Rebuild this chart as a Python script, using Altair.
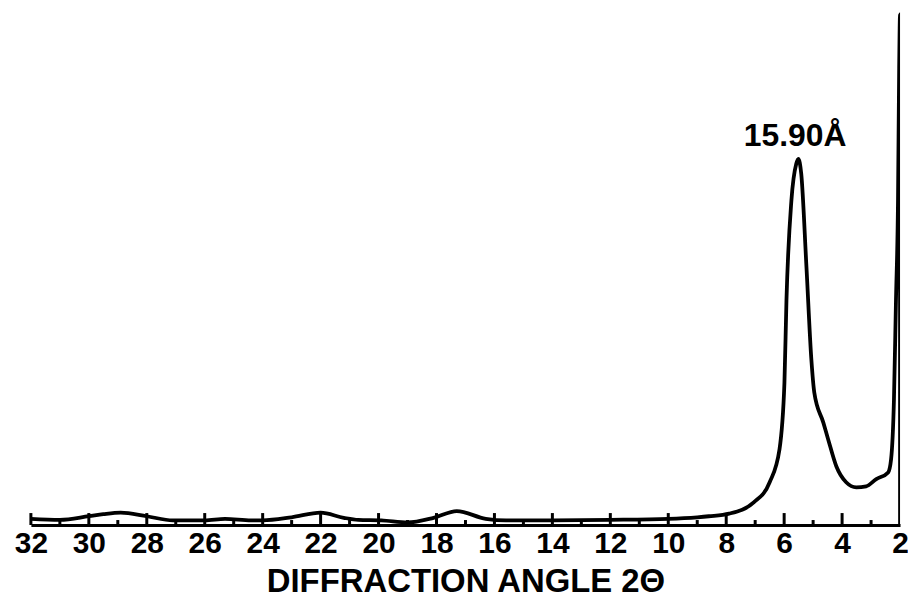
import altair as alt
import pandas as pd

# --- data ---
two_theta = [32.0, 31.0, 30.0, 29.5, 28.9, 28.0, 27.1, 26.0, 25.3, 24.4, 24.0, 23.0,
             22.0, 21.2, 20.7, 19.9, 19.0, 18.1, 17.3, 16.3, 15.6, 14.0, 12.0, 10.0,
             9.0, 8.6, 7.9, 7.05, 6.5, 6.16, 5.99, 5.92, 5.75, 5.58, 5.51, 5.41, 5.23,
             5.06, 4.96, 4.65, 4.48, 4.20, 3.86, 3.51, 3.17, 2.82, 2.41, 2.31, 2.21,
             2.14, 2.07, 2.03, 2.0, 2.0]
intensity = [1.2, 1.0, 1.7, 2.1, 2.4, 1.7, 0.9, 0.9, 1.2, 0.9, 0.9, 1.5,
             2.4, 1.4, 1.0, 0.9, 0.5, 1.4, 2.7, 1.2, 0.9, 0.9, 1.0, 1.2,
             1.5, 1.7, 2.2, 4.4, 8.3, 14.7, 27.6, 43.6, 62.9, 70.1, 71.0, 68.1, 50.0,
             32.0, 25.7, 19.9, 16.6, 11.4, 8.3, 7.3, 7.5, 8.9, 10.2, 12.7, 24.3,
             43.6, 62.9, 88.6, 99.0, 0.0]

tick_labels = [32, 30, 28, 26, 24, 22, 20, 18, 16, 14, 12, 10, 8, 6, 4, 2]
major_ticks = [32, 30, 28, 26, 24, 22, 20, 18, 16, 14, 12, 10, 8, 6, 4]
minor_ticks = [31, 29, 27, 25, 23, 21, 19, 17, 15, 13, 11, 9, 7, 5, 3]

peak_label = ["15.90Å"]
peak_x = [5.62]
peak_y = [73.5]

W, H = 873, 518

df = pd.DataFrame({"t": two_theta, "i": intensity, "order": list(range(len(two_theta)))})
df_major = pd.DataFrame({"t": major_ticks})
df_minor = pd.DataFrame({"t": minor_ticks})
df_lab = pd.DataFrame({"label": peak_label, "t": peak_x, "i": peak_y})

xscale = alt.Scale(domain=[2, 32], reverse=True, nice=False, zero=False)
yscale = alt.Scale(domain=[0, 100], nice=False)

FONT = "Liberation Sans, Arial, sans-serif"

xaxis = alt.Axis(
    values=tick_labels, ticks=False, grid=False,
    domainColor="black", domainWidth=3,
    labelFont=FONT, labelFontSize=30, labelFontWeight="bold", labelColor="black",
    labelPadding=4, labelFlush=False, labelOverlap=False,
    title="DIFFRACTION ANGLE 2Θ", titleFont=FONT,
    titleFontSize=33, titleFontWeight="bold", titleColor="black", titlePadding=7,
)

line = alt.Chart(df).mark_line(color="black", strokeWidth=3.8, interpolate="monotone", clip=True).encode(
    x=alt.X("t:Q", scale=xscale, axis=xaxis),
    y=alt.Y("i:Q", scale=yscale, axis=None),
    order="order:Q",
)

major = alt.Chart(df_major).mark_rule(color="black", strokeWidth=3).encode(
    x=alt.X("t:Q", scale=xscale),
    y=alt.value(H),
    y2=alt.value(H - 12),
)

minor = alt.Chart(df_minor).mark_rule(color="black", strokeWidth=3).encode(
    x=alt.X("t:Q", scale=xscale),
    y=alt.value(H),
    y2=alt.value(H - 5),
)

label = alt.Chart(df_lab).mark_text(
    font=FONT, fontSize=32, fontWeight="bold", color="black",
    align="center", baseline="alphabetic",
).encode(
    x=alt.X("t:Q", scale=xscale),
    y=alt.Y("i:Q", scale=yscale),
    text="label:N",
)

chart = alt.layer(line, major, minor, label).properties(
    width=W, height=H,
    autosize=alt.AutoSizeParams(type="none"),
    padding={"left": 23, "top": 0, "right": 8, "bottom": 72},
).configure(background="white", view=alt.ViewConfig(strokeWidth=0, stroke=None))

chart.save("out.html", embed_options={"renderer": "svg", "actions": False})
